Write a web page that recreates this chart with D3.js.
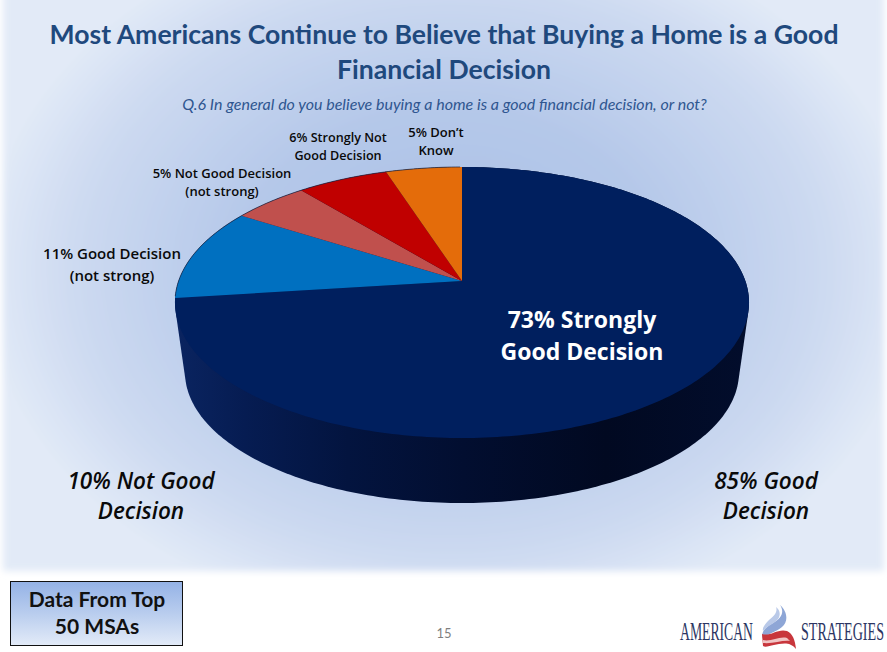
<!DOCTYPE html>
<html><head><meta charset="utf-8">
<script src="https://cdn.jsdelivr.net/npm/d3@7"></script>
<style>html,body{margin:0;padding:0;background:#fff}svg{display:block}</style>
</head><body><svg id="c" width="887" height="652"></svg>
<script>
const categories=["Strongly Good Decision","Good Decision (not strong)","Not Good Decision (not strong)","Strongly Not Good Decision","Don't Know"];
const values=[73,11,5,6,5];
const sliceColors=["#001f5e","#0070c0","#c0504d","#c00000","#e46c0a"];
const titleLines=["Most Americans Continue to Believe that Buying a Home is a Good","Financial Decision"];
const subtitle="Q.6 In general do you believe buying a home is a good financial decision, or not?";
const sliceLabels=[
 {l:["73% Strongly","Good Decision"],x:582,y:328,s:23,c:"#fff",dy:32,w:700},
 {l:["11% Good Decision","(not strong)"],x:112,y:259,s:15,c:"#0a0a0a",dy:22,w:600},
 {l:["5% Not Good Decision","(not strong)"],x:222,y:178,s:13,c:"#0a0a0a",dy:18,w:600},
 {l:["6% Strongly Not","Good Decision"],x:338,y:142,s:12.6,c:"#0a0a0a",dy:18,w:600},
 {l:["5% Don\u2019t","Know"],x:436,y:137,s:13,c:"#0a0a0a",dy:18,w:600}];
const sideLabels=[
 {l:["10% Not Good","Decision"],x:141,y:489},
 {l:["85% Good","Decision"],x:766,y:489}];
const svg=d3.select("#c"),defs=svg.append("defs");

const bg=defs.append("radialGradient").attr("id","bg").attr("gradientUnits","userSpaceOnUse")
 .attr("cx",0).attr("cy",0).attr("r",1)
 .attr("gradientTransform","translate(450 270) scale(470 360)");
[[0,"#a9c0e6"],[.45,"#b5c8e9"],[.8,"#cddaf1"],[1,"#e2eaf7"]].forEach(d=>bg.append("stop").attr("offset",d[0]).attr("stop-color",d[1]));
defs.append("filter").attr("id","soft").attr("x","-5%").attr("y","-5%").attr("width","110%").attr("height","110%")
 .append("feGaussianBlur").attr("stdDeviation",3.5);
svg.append("rect").attr("x",3).attr("y",-12).attr("width",881).attr("height",583).attr("fill","url(#bg)").attr("filter","url(#soft)");

// perspective pie
const cx=462,cy=281,a=283.4,b=132.1,k=0.1586,scaleBase=0.965,drop=70.5;
const project=(t,s=1,d=0)=>{const u=Math.sin(t),v=Math.cos(t),w=1+k*v;return [cx+s*a*u/w,cy+d-s*b*v/w];};
const line=d3.line();
const pie=d3.pie().sort(null).startAngle(0).endAngle(2*Math.PI)(values);
const step=Math.PI/180;

const wall=defs.append("linearGradient").attr("id","wall").attr("gradientUnits","userSpaceOnUse").attr("x1",176).attr("x2",749).attr("y1",0).attr("y2",0);
[[0,"#0a2460"],[.12,"#061c52"],[.3,"#03143f"],[.5,"#020e30"],[.75,"#010921"],[1,"#020d2c"]].forEach(d=>wall.append("stop").attr("offset",d[0]).attr("stop-color",d[1]));
const ring=d3.range(0,2*Math.PI,step);
const hull=d3.polygonHull(ring.map(t=>project(t)).concat(ring.map(t=>project(t,scaleBase,drop))));
svg.append("path").attr("d",line(hull)+"Z").attr("fill","url(#wall)");

svg.selectAll("path.slice").data(pie).join("path").attr("class","slice")
 .attr("d",d=>{
   const ts=d3.range(d.startAngle,d.endAngle,step).concat([d.endAngle]);
   return line([[cx,cy]].concat(ts.map(t=>project(t))))+"Z";})
 .attr("fill",(d,i)=>sliceColors[i]);
svg.append("path").attr("d",line(d3.range(4.6,2*Math.PI,step).map(t=>project(t)))).attr("fill","none").attr("stroke","#1a2440").attr("stroke-width",.7);

function multi(sel,o,family,size,weight,fill,dy,style){
 o.forEach((t,i)=>sel.append("text").attr("x",family.x).attr("y",family.y+i*dy).attr("text-anchor","middle")
  .attr("font-family",family.f).attr("font-size",size).attr("font-weight",weight).attr("font-style",style||"normal").attr("fill",fill).text(t));
}
titleLines.forEach((t,i)=>svg.append("text").attr("x",444).attr("y",44+i*35).attr("text-anchor","middle")
 .attr("font-family","Lato").attr("font-size",26.6).attr("font-weight",700).attr("fill","#1f497d").text(t));
svg.append("text").attr("x",444.5).attr("y",110).attr("text-anchor","middle").attr("font-family","Lato")
 .attr("font-size",16).attr("font-weight",400).attr("font-style","italic").attr("fill","#2f5690").text(subtitle);
sliceLabels.forEach(d=>multi(svg,d.l,{x:d.x,y:d.y,f:"Open Sans"},d.s,d.w,d.c,d.dy));
sideLabels.forEach(d=>multi(svg,d.l,{x:d.x,y:d.y,f:"Open Sans"},22.5,600,"#0a0a0a",30,"italic"));

// note box
const bx=defs.append("linearGradient").attr("id","box").attr("x1",0).attr("x2",0).attr("y1",0).attr("y2",1);
[[0,"#94b2e6"],[.5,"#b9cdee"],[1,"#e3ebf8"]].forEach(d=>bx.append("stop").attr("offset",d[0]).attr("stop-color",d[1]));
svg.append("rect").attr("x",10.5).attr("y",581.5).attr("width",172).attr("height",64).attr("fill","url(#box)").attr("stroke","#111").attr("stroke-width",1);
multi(svg,["Data From Top","50 MSAs"],{x:97,y:607,f:"Lato"},21,700,"#111",27);
svg.append("text").attr("x",444).attr("y",638).attr("text-anchor","middle").attr("font-family","Lato").attr("font-size",13).attr("fill","#7f7f7f").text("15");

// logo: tall condensed serif, squeezed horizontally to the reference width
[["AMERICAN",680,73],["STRATEGIES",801,83]].forEach(d=>{
 const t=svg.append("text").attr("font-family","Liberation Serif").attr("font-size",26).attr("fill","#2c3563").text(d[0]);
 const n=t.node().getComputedTextLength();
 t.attr("transform",`translate(${d[1]} 640) scale(${d[2]/n} 1)`);
});
svg.append("path").attr("d","M780 605C785 612 781 619 773 623C766 627 760 632 763 639C768 633 776 632 782 627C789 621 787 611 780 605Z").attr("fill","#8ea6d6");
svg.append("path").attr("d","M776 607C778 612 774 616 769 620C765 624 762 628 763 631C767 626 774 624 778 619C781 615 780 610 776 607Z").attr("fill","#b9c9e8");
svg.append("path").attr("d","M762 634C770 637 778 628 787 631C793 634 795 640 796 649C791 643 786 643 779 644C772 645 766 648 763 646Z").attr("fill","#c8363c");
svg.append("path").attr("d","M763 640C771 642 779 636 787 638L790 641C782 640 773 644 763 643Z").attr("fill","#f0c4c4");
</script></body></html>
